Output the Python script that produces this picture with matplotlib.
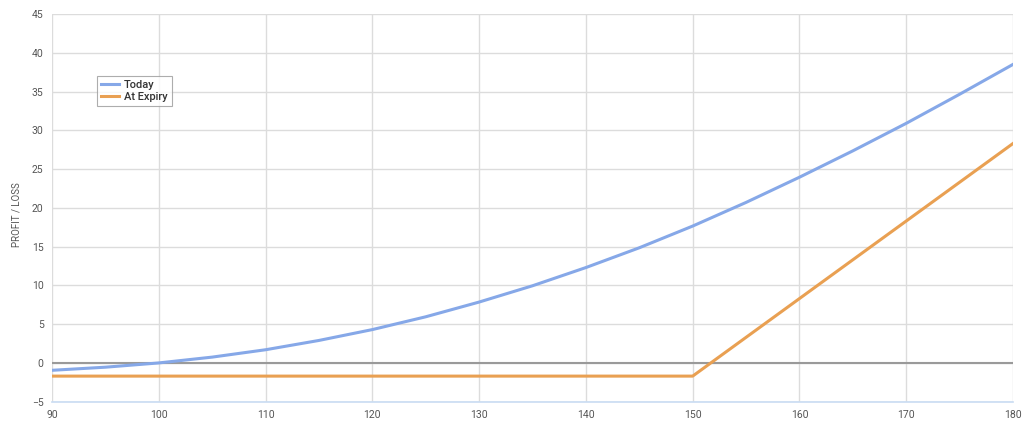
import matplotlib
matplotlib.use('Agg')
import matplotlib.pyplot as plt

# underlying price
price = [90, 95, 100, 105, 110, 115, 120, 125, 130, 135, 140, 145, 150, 155, 160, 165, 170, 175, 180]
# P/L today
today = [-0.95, -0.55, 0.0, 0.75, 1.7, 2.9, 4.3, 5.95, 7.85, 9.95, 12.3, 14.85, 17.65,
         20.7, 23.95, 27.35, 30.9, 34.65, 38.5]
# P/L at expiry
expiry_price = [90, 150, 180]
expiry = [-1.7, -1.7, 28.3]

plt.rcParams['font.family'] = ['Roboto', 'DejaVu Sans']

fig = plt.figure(figsize=(10.24, 4.26), dpi=100)
ax = fig.add_axes([52 / 1024, 1 - 401.7 / 426, (1013 - 52) / 1024, (401.7 - 14) / 426])

ax.axhline(0, color='#9a9a9a', lw=1.5, zorder=2)
ax.plot(price, today, color='#86a8e8', lw=2.2, label='Today', zorder=3)
ax.plot(expiry_price, expiry, color='#e9a052', lw=2.2, label='At Expiry', zorder=3)

ax.set_xlim(90, 180)
ax.set_ylim(-5, 45)
ax.set_xticks(range(90, 181, 10))
ax.set_yticks(range(-5, 46, 5))
ax.grid(True, color='#dcdcdc', lw=1)
ax.set_axisbelow(True)
ax.tick_params(length=0, labelsize=7.5, labelcolor='#555555', pad=6)

for side in ['top', 'left', 'right']:
    ax.spines[side].set_visible(False)
ax.spines['bottom'].set_color('#c9dcf2')
ax.spines['bottom'].set_linewidth(1.2)

fig.text(17 / 1024, 1 - 215 / 426, 'PROFIT / LOSS', rotation=90, ha='center', va='center',
         fontsize=7, color='#555555')

leg = ax.legend(loc='upper left', bbox_to_anchor=(97 / 1024, 1 - 76 / 426),
                bbox_transform=fig.transFigure, prop={'size': 8, 'weight': 'medium'},
                frameon=True, fancybox=False, handlelength=1.6, handletextpad=0.5,
                borderpad=0.35, labelspacing=0.2, borderaxespad=0)
leg.get_frame().set_edgecolor('#999999')
leg.get_frame().set_linewidth(0.8)
for t in leg.get_texts():
    t.set_color('#333333')

fig.savefig('out.png', dpi=100)
